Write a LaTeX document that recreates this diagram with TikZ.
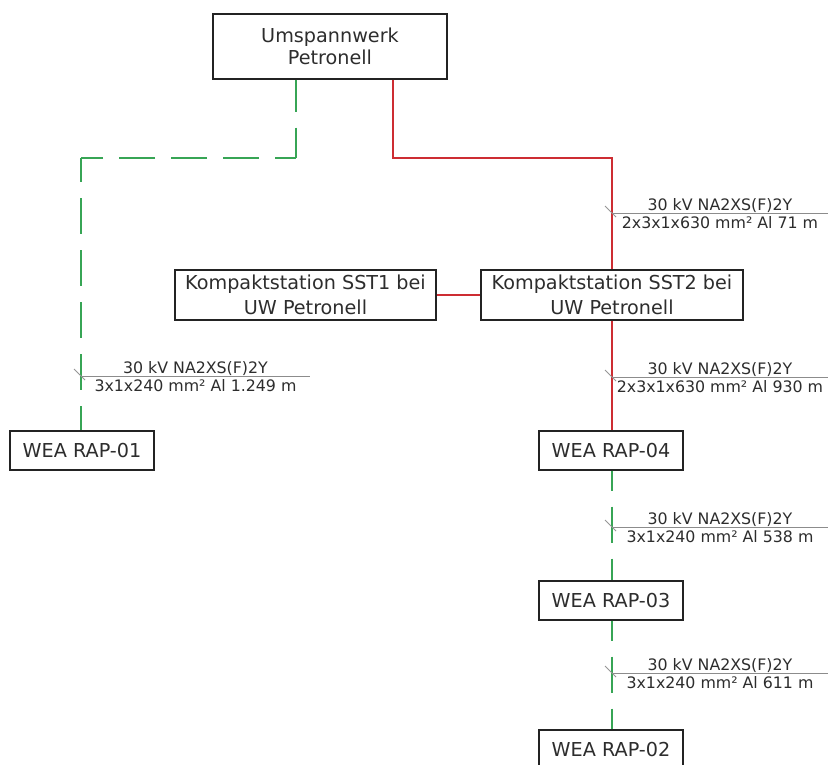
\documentclass[tikz,border=0pt]{standalone}
\usepackage{fontspec}
\setmainfont{DejaVu Sans}
\usetikzlibrary{calc}
\definecolor{boxc}{RGB}{35,35,35}
\definecolor{txt}{RGB}{45,45,45}
\definecolor{redc}{RGB}{205,45,50}
\definecolor{greenc}{RGB}{55,165,85}
\definecolor{labc}{RGB}{140,140,140}
\definecolor{tickc}{RGB}{150,150,150}
\begin{document}
\begin{tikzpicture}[x=1pt,y=-1pt,
  box/.style={draw=boxc, line width=1.4pt, fill=white, text=txt, align=center, inner sep=0pt},
  bigfont/.style={font=\fontsize{19.2}{22.5}\selectfont},
  sstfont/.style={font=\fontsize{19.2}{25}\selectfont},
  rline/.style={draw=redc, line width=1.4pt},
  gline/.style={draw=greenc, line width=1.4pt, dash pattern=on 36pt off 16pt},
  labline/.style={draw=labc, line width=1pt},
  labtxt/.style={text=txt, font=\fontsize{15.8}{18}\selectfont, inner sep=0pt, anchor=base},
  tickmark/.style={draw=tickc, line width=0.8pt}]
\useasboundingbox (0,0) rectangle (830,765);
\clip (0,0) rectangle (830,765);
\fill[white] (0,0) rectangle (830,765);

% corner coordinates
\coordinate (g1) at (296,158);
\coordinate (g2) at (81,158);
\coordinate (r1) at (393,158);
\coordinate (r2) at (612,158);

% nodes
\node[box, bigfont, minimum width=234pt, minimum height=65pt] (uw) at (330,46.5) {Umspannwerk\\Petronell};
\node[box, sstfont, minimum width=261pt, minimum height=50pt] (sst1) at (305.5,295) {Kompaktstation SST1 bei\\UW Petronell};
\node[box, sstfont, minimum width=262pt, minimum height=50pt] (sst2) at (612,295) {Kompaktstation SST2 bei\\UW Petronell};
\node[box, bigfont, minimum width=144pt, minimum height=39pt] (rap1) at (82,450.5) {WEA RAP-01};
\node[box, bigfont, minimum width=144pt, minimum height=39pt] (rap4) at (611,450.5) {WEA RAP-04};
\node[box, bigfont, minimum width=144pt, minimum height=39pt] (rap3) at (611,600.5) {WEA RAP-03};
\node[box, bigfont, minimum width=144pt, minimum height=39pt] (rap2) at (611,749.5) {WEA RAP-02};

% red connectors
\draw[rline] (r1 |- uw.south) -- (r1) -- (r2) -- (sst2.north);
\draw[rline] (sst1.east) -- (sst2.west);
\draw[rline] (sst2.south) -- (sst2.south |- rap4.north);

% green dashed connectors
\draw[gline, dash phase=4pt] (g1 |- uw.south) -- (g1);
\draw[gline, dash phase=15pt] (g1) -- (g2);
\draw[gline, dash phase=12pt] (g2) -- (g2 |- rap1.north);
\draw[gline, dash phase=16pt] (rap4.south -| r2) -- (r2 |- rap3.north);
\draw[gline, dash phase=16pt] (rap3.south -| r2) -- (r2 |- rap2.north);

% cable labels
\coordinate (c1) at (612,213);  \coordinate (c1e) at (828,213);
\coordinate (c2) at (81,376);   \coordinate (c2e) at (310,376);
\coordinate (c3) at (612,377);  \coordinate (c3e) at (828,377);
\coordinate (c4) at (612,527);  \coordinate (c4e) at (828,527);
\coordinate (c5) at (612,673);  \coordinate (c5e) at (828,673);

\foreach \c/\t in {c1/{2x3x1x630 mm² Al 71 m}, c2/{3x1x240 mm² Al 1.249 m}, c3/{2x3x1x630 mm² Al 930 m}, c4/{3x1x240 mm² Al 538 m}, c5/{3x1x240 mm² Al 611 m}}{
  \draw[labline] (\c) -- (\c e);
  \draw[tickmark] ($(\c)+(-7,-7)$) -- ($(\c)+(4,4)$);
  \node[labtxt] (\c top) at ($(\c)!0.5!(\c e)+(0,-3)$) {30 kV NA2XS(F)2Y};
  \node[labtxt] (\c bot) at ($(\c)!0.5!(\c e)+(0,15.5)$) {\t};
}
\end{tikzpicture}
\end{document}
